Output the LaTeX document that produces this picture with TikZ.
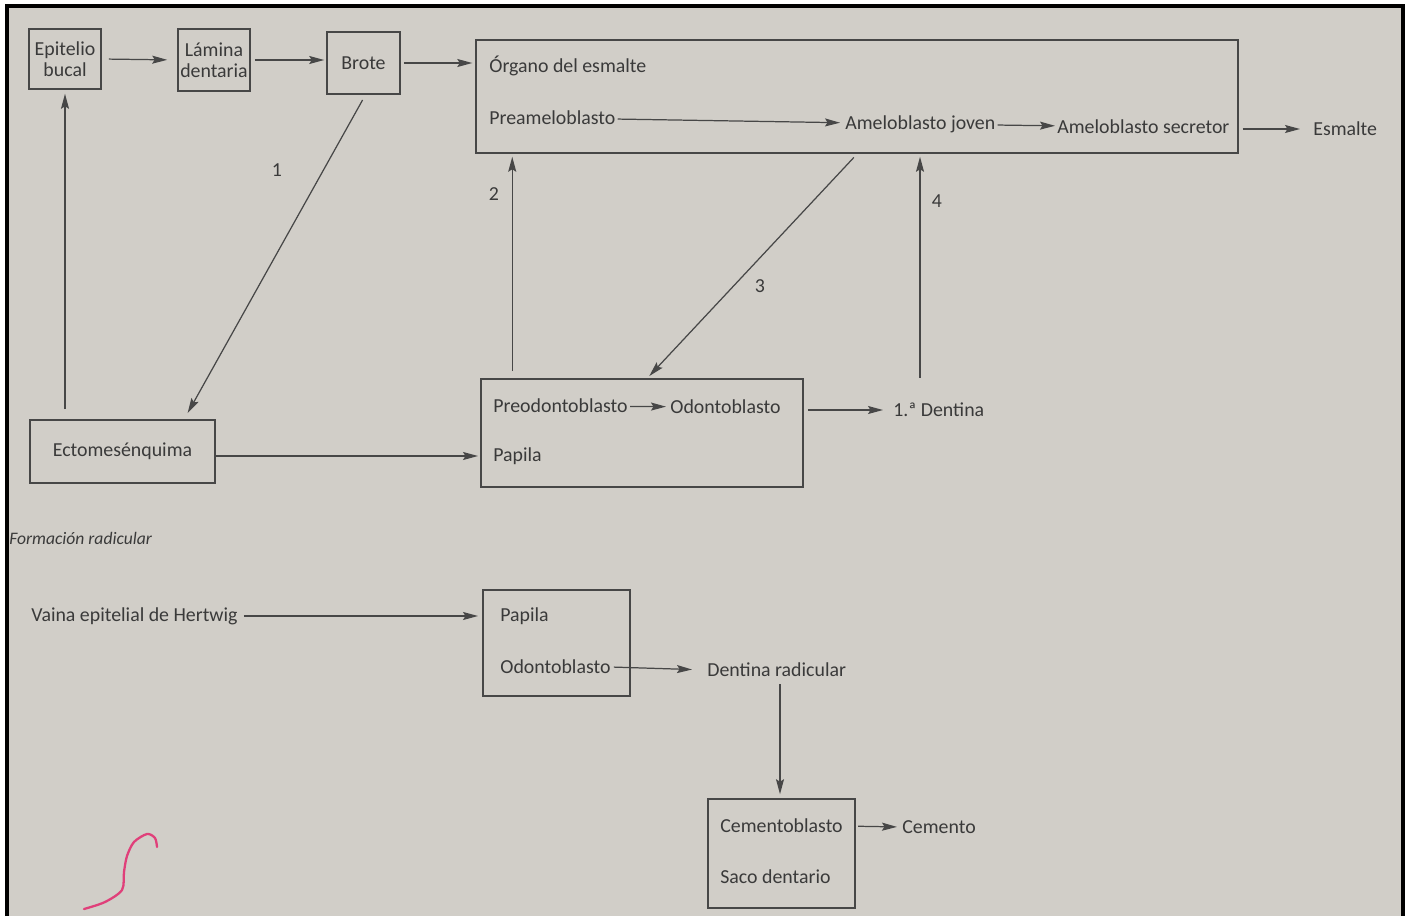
\documentclass[tikz,border=0pt]{standalone}
\usepackage{fontspec}
\setmainfont{Carlito}
\usepackage{tikz}
\usetikzlibrary{arrows.meta,calc}
\definecolor{paper}{HTML}{D1CEC8}
\definecolor{ink}{HTML}{3A3A3A}
\definecolor{inkline}{HTML}{474747}
\definecolor{pen}{HTML}{E0407A}

\begin{document}
\begin{tikzpicture}[x=0.02cm, y=-0.02cm, every node/.style={text=ink, font=\fontsize{11.3}{13}\selectfont},
    box/.style={draw=inkline, line width=0.9pt, inner sep=0pt},
    txt/.style={anchor=west, inner sep=0pt},
    arr/.style={-{Stealth[length=0.3cm, width=0.16cm, inset=0.05cm]}, draw=inkline, line width=0.7pt}]
    \useasboundingbox (0,0) rectangle (1406,916);
    % paper and frame
    \fill[white] (0,0) rectangle (1406,916);
    \fill[paper] (7,6) rectangle (1403,916);
    \draw[black, line width=2pt] (7,916) -- (7,6) -- (1403,6) -- (1403,916);

    % Boxes
    \node[box, minimum width=1.44cm, minimum height=1.2cm, align=center] (epit) at (65,59) {Epitelio\\[-1pt]bucal};
    \node[box, minimum width=1.44cm, minimum height=1.24cm, align=center] (lamina) at (214,60) {Lámina\\[-1pt]dentaria};
    \node[box, minimum width=1.46cm, minimum height=1.24cm] (brote) at (363.5,63) {Brote};
    \node[box, minimum width=15.24cm, minimum height=2.26cm] (organo) at (857,96.5) {};
    \node[box, minimum width=3.7cm, minimum height=1.26cm] (ecto) at (122.5,451.5) {Ectomesénquima};
    \node[box, minimum width=6.44cm, minimum height=2.16cm] (papbox) at (642,433) {};
    \node[box, minimum width=2.94cm, minimum height=2.12cm] (radbox) at (556.5,643) {};
    \node[box, minimum width=2.94cm, minimum height=2.18cm] (cembox) at (781.5,853.5) {};

    % Texts
    \node[txt] (torg) at (489,66) {Órgano del esmalte};
    \node[txt] (preamel) at (489,118) {Preameloblasto};
    \node[txt] (amjov) at (845,124) {Ameloblasto joven};
    \node[txt] (amsec) at (1057,127) {Ameloblasto secretor};
    \node[txt] (esmalte) at (1313,129) {Esmalte};
    \node[txt] (preodo) at (493,406) {Preodontoblasto};
    \node[txt] (odo) at (670,407) {Odontoblasto};
    \node[txt] (papila) at (493,456) {Papila};
    \node[txt] (dentina) at (893,410) {1.ª Dentina};
    \node[txt, font=\fontsize{10}{12}\selectfont\itshape] (formacion) at (9,538) {Formación radicular};
    \node[txt] (vaina) at (31,616) {Vaina epitelial de Hertwig};
    \node[txt] (papila2) at (500,616) {Papila};
    \node[txt] (odo2) at (500,667) {Odontoblasto};
    \node[txt] (dentrad) at (707,670) {Dentina radicular};
    \node[txt] (cementob) at (720,826) {Cementoblasto};
    \node[txt] (saco) at (720,877) {Saco dentario};
    \node[txt] (cemento) at (902,827) {Cemento};

    % Step numbers
    \node (lab1) at (277,170) {1};
    \node (lab2) at (494,194) {2};
    \node (lab3) at (760,286) {3};
    \node (lab4) at (937,201) {4};

    % Top row
    \draw[arr, shorten <=0.14cm, shorten >=0.2cm] (epit.east) -- (lamina.west);
    \draw[arr, shorten <=0.08cm, shorten >=0.04cm] (lamina.east) -- (brote.west |- lamina.east);
    \draw[arr, shorten <=0.06cm, shorten >=0.06cm] (brote.east) -- (brote.east -| organo.west);
    \draw[arr, shorten <=0.04cm, shorten >=0.1cm] (preamel) -- (amjov);
    \draw[arr, shorten <=0.04cm, shorten >=0.04cm] (amjov) -- (amsec);
    \draw[arr, shorten <=0.08cm, shorten >=0.26cm] (esmalte.west -| organo.east) -- (esmalte.west);

    % Crown
    \draw[arr, shorten <=0.12cm, shorten >=0.14cm] ($(brote.south)+(2,0)$) -- ($(ecto.north west)+(155,0)$);
    \draw[arr, shorten <=0.2cm, shorten >=0.08cm] (epit.south |- ecto.north) -- (epit.south);
    \draw[arr, shorten >=0.3cm] (ecto.east |- papila.west) -- (papila.west);
    \draw[arr, shorten <=0.04cm, shorten >=0.08cm] (preodo) -- (odo);
    \draw[arr, shorten <=0.08cm, shorten >=0.2cm] (dentina.west -| papbox.east) -- (dentina.west);
    \coordinate (up2) at ($(papbox.north west)+(32,0)$);
    \draw[arr, shorten <=0.14cm, shorten >=0.06cm] (up2) -- (up2 |- organo.south);
    \draw[arr, shorten <=0.1cm, shorten >=0.06cm] ($(organo.south west)+(382,0)$) -- ($(papbox.north west)+(167,0)$);
    \coordinate (up4) at ($(dentina.north west)+(27,0)$);
    \draw[arr, shorten <=0.5cm, shorten >=0.06cm] (up4) -- (up4 |- organo.south);

    % Root formation
    \draw[arr, shorten <=0.12cm, shorten >=0.44cm] (vaina.east) -- (papila2.west);
    \draw[arr, shorten <=0.06cm, shorten >=0.3cm] (odo2.east) -- (dentrad.west);
    \coordinate (down) at ($(dentrad.south west)+(73,0)$);
    \draw[arr, shorten <=0.14cm, shorten >=0.08cm] (down) -- (down |- cembox.north);
    \draw[arr, shorten <=0.3cm, shorten >=0.1cm] (cementob.east) -- (cemento.west);

    % pen mark
    \draw[pen, line width=1.3pt, line cap=round] plot[smooth] coordinates {(84,909) (105,902) (122,890) (124,872) (127,856) (134,842) (147,834) (155,838) (157,847)};
\end{tikzpicture}
\end{document}
